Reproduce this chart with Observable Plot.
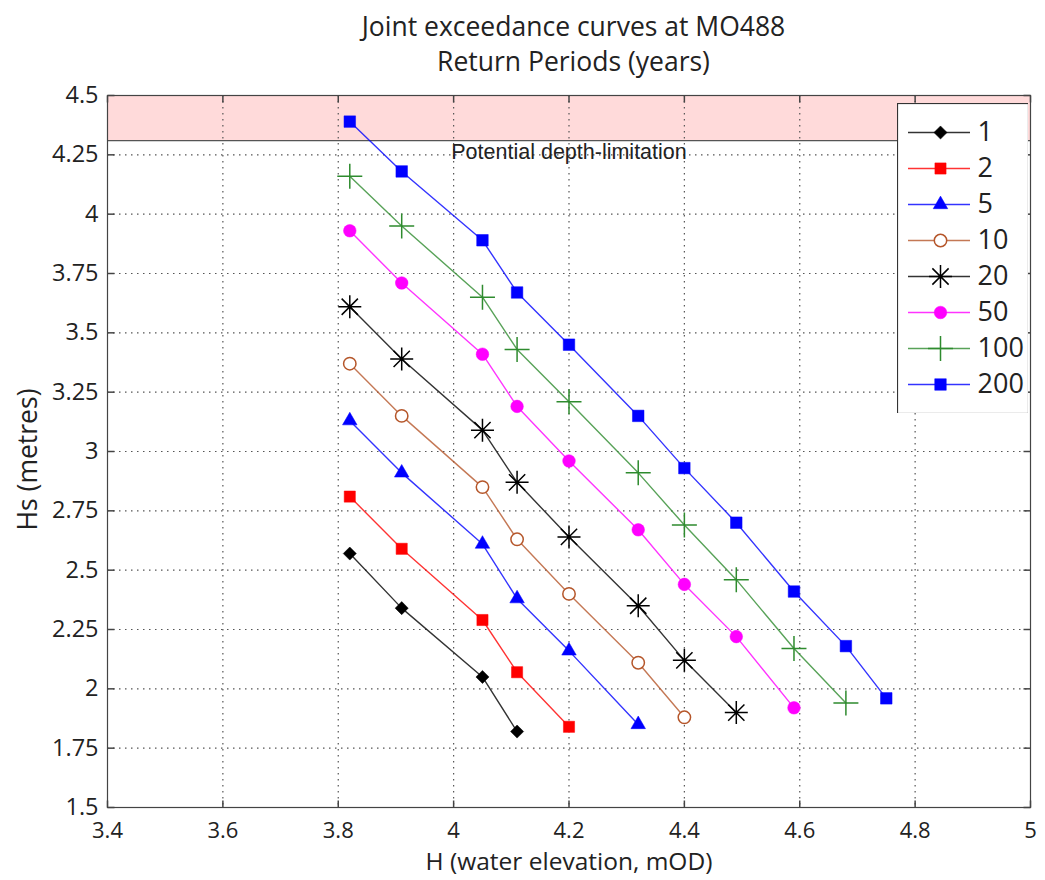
<!DOCTYPE html>
<html><head><meta charset="utf-8">
<script src="https://cdn.jsdelivr.net/npm/d3@7"></script>
<script src="https://cdn.jsdelivr.net/npm/@observablehq/plot@0.6"></script>
<style>
body{margin:0;background:#fff;}
#wrap{position:relative;width:1045px;height:880px;font-family:"Open Sans",sans-serif;color:#222;overflow:hidden;}
#title{position:absolute;left:107px;width:933px;top:9px;text-align:center;font-size:26.5px;line-height:35px;}
#chart{position:absolute;left:0;top:60px;}
#legend{position:absolute;left:897px;top:103px;}
</style></head><body>
<div id="wrap">
<div id="title">Joint exceedance curves at MO488<br>Return Periods (years)</div>
<div id="chart"></div>
<div id="legend"></div>
</div>
<script>
// ---- data ----
const hValues = [3.82, 3.91, 4.05, 4.11, 4.20, 4.32, 4.40, 4.49, 4.59, 4.68, 4.75];
const returnPeriods = ["1", "2", "5", "10", "20", "50", "100", "200"];
const hs1   = [2.57, 2.34, 2.05, 1.82];
const hs2   = [2.81, 2.59, 2.29, 2.07, 1.84];
const hs5   = [3.13, 2.91, 2.61, 2.38, 2.16, 1.85];
const hs10  = [3.37, 3.15, 2.85, 2.63, 2.40, 2.11, 1.88];
const hs20  = [3.61, 3.39, 3.09, 2.87, 2.64, 2.35, 2.12, 1.90];
const hs50  = [3.93, 3.71, 3.41, 3.19, 2.96, 2.67, 2.44, 2.22, 1.92];
const hs100 = [4.16, 3.95, 3.65, 3.43, 3.21, 2.91, 2.69, 2.46, 2.17, 1.94];
const hs200 = [4.39, 4.18, 3.89, 3.67, 3.45, 3.15, 2.93, 2.70, 2.41, 2.18, 1.96];
const seriesColors = ["#000000", "#ff0000", "#0000ff", "#b5562a", "#000000", "#ff00ff", "#2e8b2e", "#0000ff"];
const xTicks = [3.4, 3.6, 3.8, 4, 4.2, 4.4, 4.6, 4.8, 5];
const yTicks = [1.5, 1.75, 2, 2.25, 2.5, 2.75, 3, 3.25, 3.5, 3.75, 4, 4.25, 4.5];
const xLabel = "H (water elevation, mOD)";
const yLabel = "Hs (metres)";
const depthLimit = 4.31;
const bandLabel = "Potential depth-limitation";
const bandLabelX = 4.2;

// ---- symbols ----
const asterisk8 = {draw(ctx, size) {
  const r = Math.sqrt(size / Math.PI);
  for (let i = 0; i < 4; i++) {
    const a = i * Math.PI / 4, dx = r * Math.cos(a), dy = r * Math.sin(a);
    ctx.moveTo(-dx, -dy); ctx.lineTo(dx, dy);
  }
}};
const plusSym = {draw(ctx, size) {
  const r = Math.sqrt(size / Math.PI);
  ctx.moveTo(-r, 0); ctx.lineTo(r, 0); ctx.moveTo(0, -r); ctx.lineTo(0, r);
}};
const tickUp = {draw(ctx) { ctx.moveTo(0, 0); ctx.lineTo(0, -7); }};
const tickDown = {draw(ctx) { ctx.moveTo(0, 0); ctx.lineTo(0, 7); }};
const tickRight = {draw(ctx) { ctx.moveTo(0, 0); ctx.lineTo(7, 0); }};
const tickLeft = {draw(ctx) { ctx.moveTo(0, 0); ctx.lineTo(-7, 0); }};

const hsSeries = [hs1, hs2, hs5, hs10, hs20, hs50, hs100, hs200];
const markerStyles = [
  {symbol: "diamond2", r: 5.9, filled: true},
  {symbol: "square", r: 6.3, filled: true},
  {symbol: "triangle", r: 5.4, filled: true},
  {symbol: "circle", r: 6.2, filled: false},
  {symbol: asterisk8, r: 11.5, filled: false},
  {symbol: "circle", r: 6.3, filled: true},
  {symbol: plusSym, r: 12.5, filled: false},
  {symbol: "square", r: 6.5, filled: true}
];

const series = returnPeriods.map((label, i) => ({
  label,
  color: seriesColors[i],
  style: markerStyles[i],
  rows: hsSeries[i].map((v, j) => ({h: hValues[j], hs: v, label}))
}));

function dotOptions(s, extra) {
  const st = s.style;
  return Object.assign({
    symbol: st.symbol, r: st.r,
    fill: st.filled ? s.color : (st.symbol === "circle" ? "white" : "none"),
    stroke: s.color,
    strokeWidth: st.filled ? 0.5 : 1.5
  }, extra);
}

const marks = [
  Plot.rect([0], {y1: depthLimit, y2: yTicks[yTicks.length - 1], fill: "#ffdada"}),
  Plot.ruleX(xTicks.slice(1, -1), {stroke: "#555", strokeDasharray: "1.5,4.5", strokeWidth: 1.2}),
  Plot.ruleY(yTicks.slice(1, -1), {stroke: "#555", strokeDasharray: "1.5,4.5", strokeWidth: 1.2}),
  Plot.ruleY([depthLimit], {stroke: "#555", strokeWidth: 1.2}),
  Plot.text([bandLabel], {x: bandLabelX, y: depthLimit, text: d => d, lineAnchor: "top", dy: 3, fontSize: 21.5, fontFamily: "Liberation Sans, Arial, sans-serif", fill: "#222"}),
  ...series.map(s => Plot.line(s.rows, {x: "h", y: "hs", stroke: s.color, strokeWidth: 1.4, strokeOpacity: 0.8})),
  ...series.map(s => Plot.dot(s.rows, dotOptions(s, {x: "h", y: "hs"}))),
  Plot.frame({stroke: "#444", strokeWidth: 1.2}),
  Plot.dot(xTicks, {x: d => d, frameAnchor: "bottom", symbol: tickUp, stroke: "#444", r: 3}),
  Plot.dot(xTicks, {x: d => d, frameAnchor: "top", symbol: tickDown, stroke: "#444", r: 3}),
  Plot.dot(yTicks, {y: d => d, frameAnchor: "left", symbol: tickRight, stroke: "#444", r: 3}),
  Plot.dot(yTicks, {y: d => d, frameAnchor: "right", symbol: tickLeft, stroke: "#444", r: 3}),
  // tick labels
  Plot.text(xTicks, {x: d => d, text: d => String(d), frameAnchor: "bottom", lineAnchor: "top", dy: 15, fontSize: 22, fill: "#222", ariaLabel: "x tick labels"}),
  Plot.text(yTicks, {y: d => d, text: d => String(d), frameAnchor: "left", textAnchor: "end", dx: -9, fontSize: 23.5, fill: "#222", ariaLabel: "y tick labels"}),
  // axis titles
  Plot.text([xLabel], {text: d => d, frameAnchor: "bottom", textAnchor: "middle", lineAnchor: "middle", dy: 55, fontSize: 24.5, fill: "#222", ariaLabel: "x label"}),
  Plot.text([yLabel], {text: d => d, frameAnchor: "left", textAnchor: "middle", lineAnchor: "middle", rotate: -90, dx: -79, dy: 8, fontSize: 26.5, fill: "#222", ariaLabel: "y label"})
];

const chart = Plot.plot({
  width: 1045,
  height: 820,
  marginTop: 35,
  marginBottom: 73,
  marginLeft: 107,
  marginRight: 15,
  style: {fontFamily: "Open Sans, sans-serif", color: "#222", background: "transparent"},
  x: {domain: [xTicks[0], xTicks[xTicks.length - 1]], axis: null},
  y: {domain: [yTicks[0], yTicks[yTicks.length - 1]], axis: null},
  marks
});
document.getElementById("chart").appendChild(chart);

// ---- legend ----
const legend = Plot.plot({
  width: 131,
  height: 310,
  margin: 0,
  style: {fontFamily: "Open Sans, sans-serif", background: "transparent"},
  x: {axis: null},
  y: {type: "point", domain: returnPeriods, range: [27, 283], padding: 0, axis: null},
  marks: [
    Plot.frame({fill: "white", stroke: "#333", strokeWidth: 1.2}),
    ...series.map(s => Plot.ruleY([s.label], {y: d => d, stroke: s.color, strokeWidth: 1.4, strokeOpacity: 0.8, insetLeft: 11, insetRight: 58})),
    ...series.map(s => Plot.dot([s.label], dotOptions(s, {y: d => d, frameAnchor: "left", dx: 43}))),
    Plot.text(returnPeriods, {y: d => d, text: d => d, frameAnchor: "left", dx: 80, textAnchor: "start", fontSize: 27, fill: "#222"})
  ]
});
document.getElementById("legend").appendChild(legend);
</script>
</body></html>
